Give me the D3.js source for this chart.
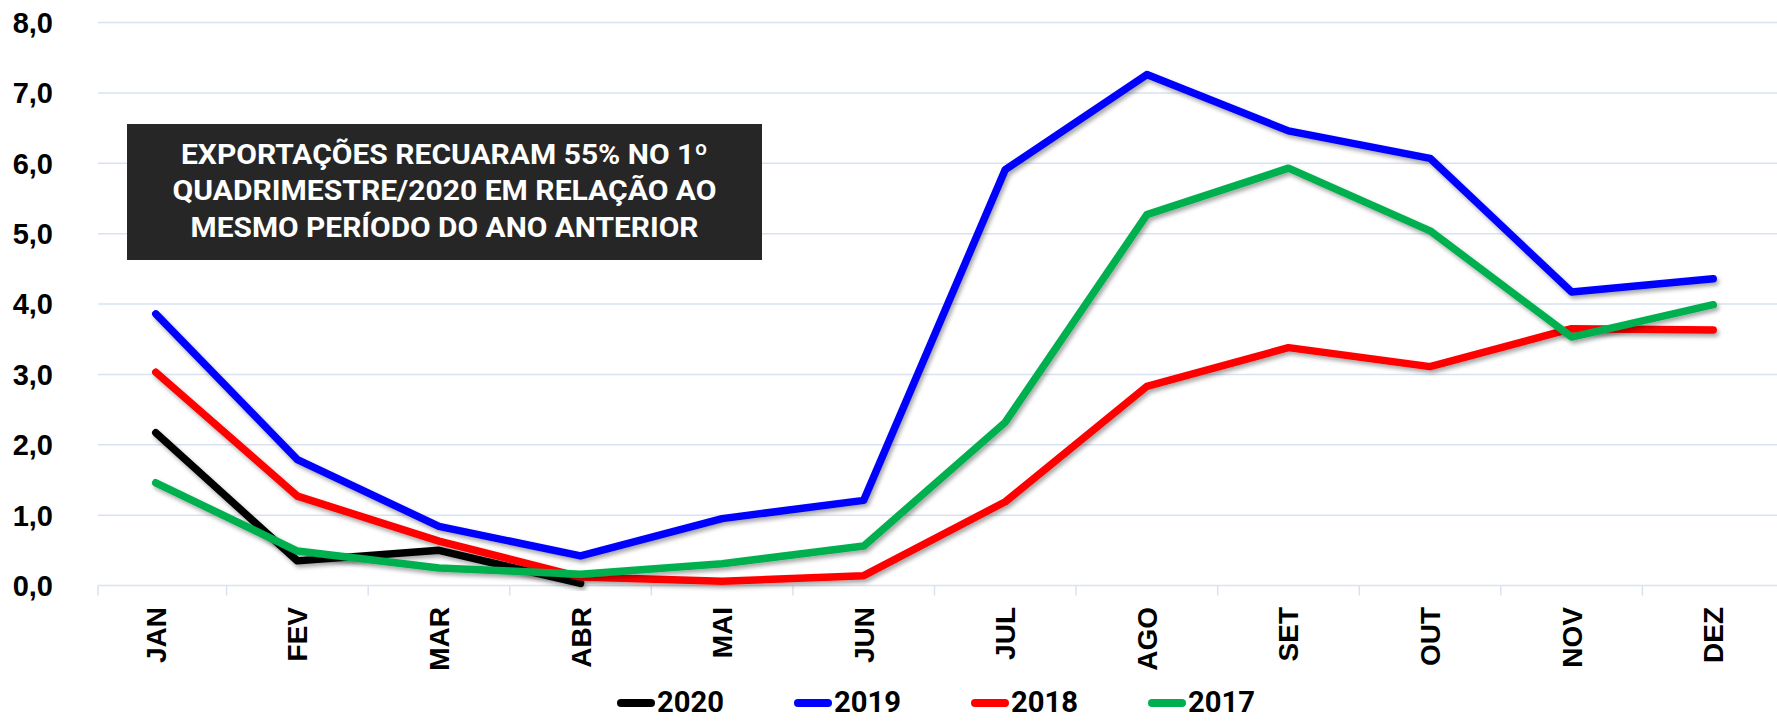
<!DOCTYPE html>
<html>
<head>
<meta charset="utf-8">
<script src="https://cdn.jsdelivr.net/npm/d3@7"></script>
<style>
  body { margin: 0; background: #fff; }
  svg { display: block; }
</style>
</head>
<body>
<svg id="chart"></svg>
<script>
// month categories and series values
const months = ["JAN", "FEV", "MAR", "ABR", "MAI", "JUN", "JUL", "AGO", "SET", "OUT", "NOV", "DEZ"];
const years = ["2020", "2019", "2018", "2017"];
const s2020 = [2.17, 0.35, 0.50, 0.03];
const s2019 = [3.86, 1.79, 0.84, 0.42, 0.95, 1.21, 5.91, 7.26, 6.46, 6.07, 4.17, 4.36];
const s2018 = [3.03, 1.27, 0.63, 0.12, 0.06, 0.14, 1.19, 2.83, 3.38, 3.11, 3.65, 3.63];
const s2017 = [1.46, 0.49, 0.25, 0.16, 0.31, 0.56, 2.32, 5.27, 5.93, 5.04, 3.53, 3.99];
const yTicks = [0, 1, 2, 3, 4, 5, 6, 7, 8];
const noteLines = [
    "EXPORTAÇÕES RECUARAM 55% NO 1º",
    "QUADRIMESTRE/2020 EM RELAÇÃO AO",
    "MESMO PERÍODO DO ANO ANTERIOR"
];

const W = 1777, H = 721;
const colors = { "2020": "#000000", "2019": "#0000ff", "2018": "#ff0000", "2017": "#00b050" };
const seriesValues = { "2020": s2020, "2019": s2019, "2018": s2018, "2017": s2017 };

const svg = d3.select("#chart").attr("width", W).attr("height", H);

// drop shadow like the original line style
const defs = svg.append("defs");
defs.append("filter")
    .attr("id", "shadow")
    .attr("x", "-5%").attr("y", "-5%").attr("width", "110%").attr("height", "110%")
    .append("feDropShadow")
    .attr("dx", 2).attr("dy", 3)
    .attr("stdDeviation", 2)
    .attr("flood-color", "#000")
    .attr("flood-opacity", 0.35);

const plotLeft = 98;

// scales
const x = d3.scaleBand().domain(months).range([85, 1784]);
const y = d3.scaleLinear().domain([0, 8]).range([585.5, 22.5]);
const cx = d => x(d) + x.bandwidth() / 2;

// horizontal grid
svg.append("g")
    .selectAll("line")
    .data(yTicks)
    .join("line")
    .attr("x1", plotLeft)
    .attr("x2", W)
    .attr("y1", d => y(d))
    .attr("y2", d => y(d))
    .attr("stroke", "#d9e2f3")
    .attr("stroke-width", 1.5);

// y labels
const fmt = d => d3.format(".1f")(d).replace(".", ",");
svg.append("g")
    .selectAll("text")
    .data(yTicks)
    .join("text")
    .attr("x", 53)
    .attr("y", d => y(d))
    .attr("dy", "0.36em")
    .attr("text-anchor", "end")
    .attr("font-family", "Liberation Sans, Arial, sans-serif")
    .attr("font-weight", "bold")
    .attr("font-size", 29)
    .attr("fill", "#000")
    .text(fmt);

// x ticks at band boundaries
const tickXs = [plotLeft].concat(months.slice(1).map(m => x(m)));
svg.append("g")
    .selectAll("line")
    .data(tickXs)
    .join("line")
    .attr("x1", d => d).attr("x2", d => d)
    .attr("y1", y(0)).attr("y2", y(0) + 10)
    .attr("stroke", "#d9e2f3")
    .attr("stroke-width", 1.5);

// x labels, rotated
svg.append("g")
    .selectAll("text")
    .data(months)
    .join("text")
    .attr("transform", d => `translate(${cx(d) + 10},607) rotate(-90)`)
    .attr("text-anchor", "end")
    .attr("font-family", "Liberation Sans, Arial, sans-serif")
    .attr("font-weight", "bold")
    .attr("font-size", 28)
    .attr("fill", "#000")
    .text(d => d);

// series lines
const line = d3.line()
    .x((d, i) => cx(months[i]))
    .y(d => y(d));

svg.append("g")
    .selectAll("path")
    .data(years)
    .join("path")
    .attr("d", k => line(seriesValues[k]))
    .attr("fill", "none")
    .attr("stroke", k => colors[k])
    .attr("stroke-width", 7.5)
    .attr("stroke-linecap", "round")
    .attr("stroke-linejoin", "round")
    .attr("filter", "url(#shadow)");

// annotation box
svg.append("rect")
    .attr("x", 127).attr("y", 124)
    .attr("width", 635).attr("height", 136)
    .attr("fill", "#262626");

const noteWidths = [527, 544, 508];
svg.append("g")
    .selectAll("text")
    .data(noteLines)
    .join("text")
    .attr("x", 444.5)
    .attr("y", (d, i) => 163.5 + i * 36.5)
    .attr("text-anchor", "middle")
    .attr("font-family", "Roboto, sans-serif")
    .attr("font-weight", "bold")
    .attr("font-size", 28)
    .attr("fill", "#fff")
    .attr("textLength", (d, i) => noteWidths[i])
    .attr("lengthAdjust", "spacingAndGlyphs")
    .text(d => d);

// legend
const legend = svg.append("g")
    .selectAll("g")
    .data(years)
    .join("g")
    .attr("transform", (d, i) => `translate(${617 + i * 177},0)`);

legend.append("line")
    .attr("x1", 4).attr("x2", 34)
    .attr("y1", 703).attr("y2", 703)
    .attr("stroke", d => colors[d])
    .attr("stroke-width", 8)
    .attr("stroke-linecap", "round");

legend.append("text")
    .attr("x", 40)
    .attr("y", 712)
    .attr("font-family", "Roboto, sans-serif")
    .attr("font-weight", "bold")
    .attr("font-size", 29)
    .attr("fill", "#000")
    .attr("textLength", 67)
    .attr("lengthAdjust", "spacingAndGlyphs")
    .text(d => d);
</script>
</body>
</html>
